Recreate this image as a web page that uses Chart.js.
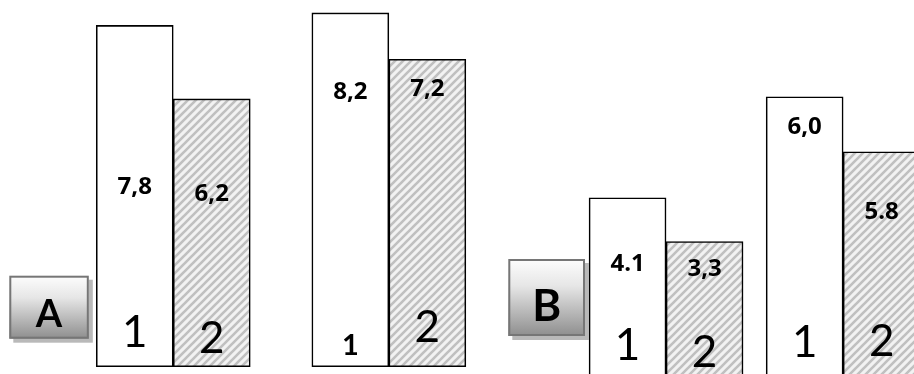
<!DOCTYPE html>
<html>
<head>
<meta charset="utf-8">
<script src="https://cdn.jsdelivr.net/npm/chart.js@4/dist/chart.umd.min.js"></script>
<style>
html,body{margin:0;padding:0;background:#fff;overflow:hidden}
#wrap{width:914px;height:374px;position:relative}
</style>
</head>
<body>
<div id="wrap"><canvas id="c" width="914" height="374"></canvas></div>
<script>
// ---- data ----
const pairGroups     = ['A', 'A', 'B', 'B'];
const pairPositions  = [2.25, 5.05, 8.65, 10.95];     // x slot of each pair (in bar widths)
const series1Heights = [7.94, 8.23, 3.93, 6.28];      // drawn height of the white bars
const series2Heights = [6.23, 7.15, 2.91, 5.00];      // drawn height of the hatched bars
const pairBases      = [0, 0, -1, -1];                // group B bars run below the frame
const series1Labels  = ['7,8', '8,2', '4.1', '6,0'];
const series2Labels  = ['6,2', '7,2', '3,3', '5.8'];
const series1Names   = ['1', '1', '1', '1'];
const series2Names   = ['2', '2', '2', '2'];
const panelLabels    = ['A', 'B'];

// ---- styling / placement (not data) ----
const style = {
  valueFont: 'bold 24px "Open Sans"',
  valueBaseline: { s1: [194, 98.5, 271, 133.5], s2: [200.5, 95.5, 275.5, 218.5] },
  nameBaseline:  { s1: [346.7, 355, 360, 357],      s2: [353.3, 341.7, 366.7, 356] },
  nameFont:      { s1: ['44px Lato', 'bold 29px Lato', '44px Lato', '44px Lato'], s2: ['44px Lato', '44px Lato', '44px Lato', '44px Lato'] },
  panels: [
    { x: 9.3,  y: 275.7, w: 79.5, h: 63,  font: 'bold 38px Lato', base: 327.3 },
    { x: 508.3, y: 259,  w: 76.7, h: 77,  font: 'bold 44px Lato', base: 320.5 }
  ]
};

function makeHatch() {
  const s = 8;
  const cv = document.createElement('canvas');
  cv.width = s; cv.height = s;
  const g = cv.getContext('2d');
  g.fillStyle = '#f2f2f2';
  g.fillRect(0, 0, s, s);
  g.strokeStyle = '#c0c0c0';
  g.lineWidth = 2.6;
  g.lineCap = 'square';
  g.beginPath();
  g.moveTo(-2, s + 2); g.lineTo(s + 2, -2);
  g.moveTo(-2, 2); g.lineTo(2, -2);
  g.moveTo(s - 2, s + 2); g.lineTo(s + 2, s - 2);
  g.stroke();
  return g.createPattern(cv, 'repeat');
}

const textPlugin = {
  id: 'barTexts',
  afterDatasetsDraw(chart) {
    const ctx = chart.ctx;
    ctx.save();
    ctx.fillStyle = '#000';
    ctx.textAlign = 'center';
    ctx.textBaseline = 'alphabetic';
    const sets = [
      { meta: chart.getDatasetMeta(0), vals: series1Labels, names: series1Names, vb: style.valueBaseline.s1, nb: style.nameBaseline.s1, nf: style.nameFont.s1 },
      { meta: chart.getDatasetMeta(1), vals: series2Labels, names: series2Names, vb: style.valueBaseline.s2, nb: style.nameBaseline.s2, nf: style.nameFont.s2 }
    ];
    sets.forEach(s => {
      s.meta.data.forEach((bar, i) => {
        ctx.font = style.valueFont;
        ctx.fillText(s.vals[i], bar.x, s.vb[i]);
        ctx.font = s.nf[i];
        ctx.fillText(s.names[i], bar.x, s.nb[i]);
      });
    });
    // panel boxes
    style.panels.forEach((p, k) => {
      ctx.fillStyle = '#b9b9b9';
      ctx.fillRect(p.x + 4, p.y + 4, p.w, p.h);
      const gr = ctx.createLinearGradient(0, p.y, 0, p.y + p.h);
      gr.addColorStop(0, '#fdfdfd');
      gr.addColorStop(0.35, '#e6e6e6');
      gr.addColorStop(1, '#8e8e8e');
      ctx.fillStyle = gr;
      ctx.fillRect(p.x, p.y, p.w, p.h);
      ctx.strokeStyle = '#767676';
      ctx.lineWidth = 2;
      ctx.strokeRect(p.x + 1, p.y + 1, p.w - 2, p.h - 2);
      ctx.fillStyle = '#000';
      ctx.font = p.font;
      ctx.fillText(panelLabels[k], p.x + p.w / 2, p.base);
    });
    ctx.restore();
  }
};

const hatch = makeHatch();

new Chart(document.getElementById('c'), {
  type: 'bar',
  data: {
    datasets: [
      {
        label: 'series 1',
        data: pairPositions.map((x, i) => ({ x: x, y: [pairBases[i], series1Heights[i]] })),
        backgroundColor: '#ffffff',
        borderColor: '#000000',
        borderWidth: 1.6,
        borderSkipped: false,
        barThickness: 77
      },
      {
        label: 'series 2',
        data: pairPositions.map((x, i) => ({ x: x, y: [pairBases[i], series2Heights[i]] })),
        backgroundColor: hatch,
        borderColor: '#000000',
        borderWidth: 1.6,
        borderSkipped: false,
        barThickness: 77
      }
    ]
  },
  options: {
    responsive: false,
    devicePixelRatio: 1,
    animation: false,
    layout: { padding: 0 },
    plugins: { legend: { display: false }, tooltip: { enabled: false }, title: { display: false } },
    scales: {
      x: { type: 'linear', display: false, offset: false, min: 0, max: 914 / 77, grid: { offset: false } },
      y: { type: 'linear', display: false, min: -0.17, max: 8.53 }
    }
  },
  plugins: [textPlugin]
});
</script>
</body>
</html>
